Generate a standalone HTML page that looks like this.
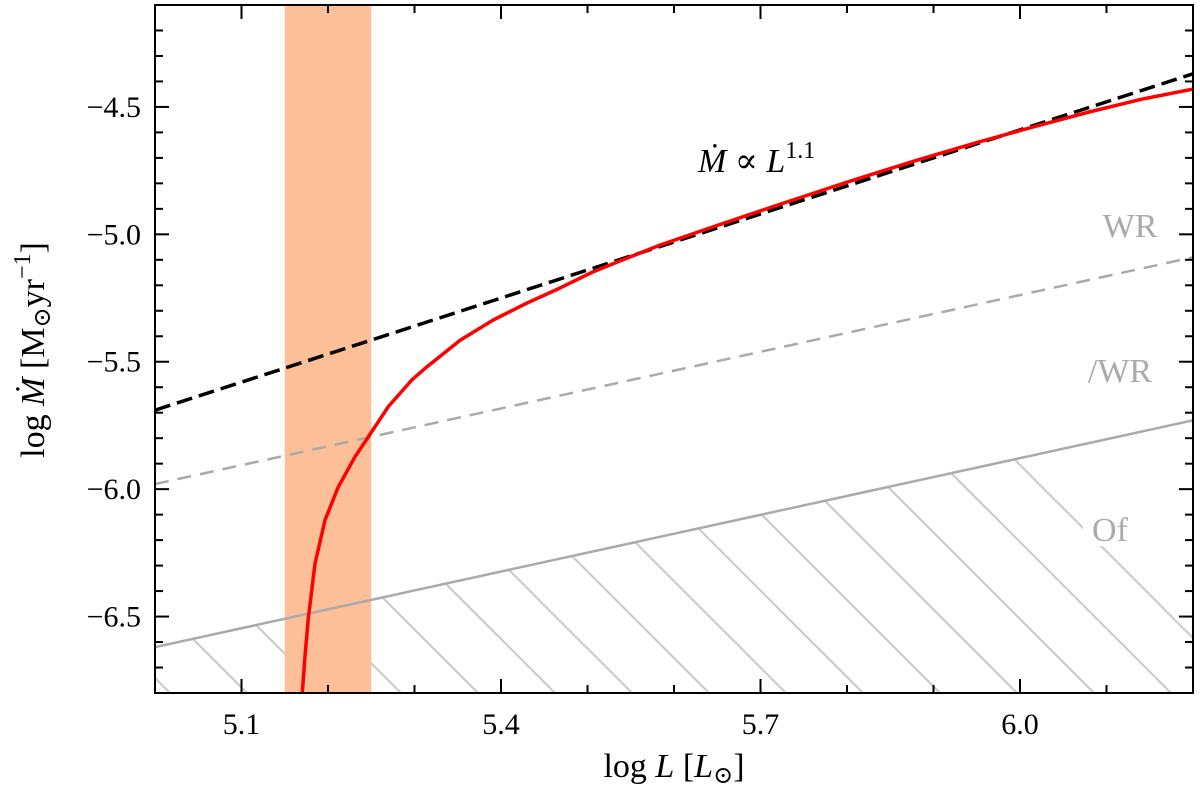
<!DOCTYPE html>
<html><head><meta charset="utf-8"><style>
body{margin:0;background:#fff}
svg{font-family:"Liberation Serif","DejaVu Serif",serif}
</style></head><body>
<svg id="c" width="1200" height="790" viewBox="0 0 1200 790" xmlns="http://www.w3.org/2000/svg"></svg>
<script>
const xDomain=[5.0,6.2];
const yDomain=[-6.8,-4.1];
const xTickLabels=[5.1,5.4,5.7,6.0];
const yTickLabels=[-6.5,-6.0,-5.5,-5.0,-4.5];
const bandRange=[5.15,5.25];
const powerLawIntercept=-5.69, powerLawSlope=1.1;
const wrDashedLine=[[5.0,-5.98],[6.2,-5.09]];
const ofSolidLine=[[5.0,-6.62],[6.2,-5.73]];
const redX=[5.1703,5.1735,5.1772,5.185,5.1965,5.2119,5.2312,5.2466,5.2697,5.2968,5.314,5.353,5.391,5.430,5.468,5.506,5.546,5.584,5.65,5.72,5.80,5.88,5.95,6.02,6.08,6.14,6.20];
const redY=[-6.80,-6.65,-6.507,-6.292,-6.122,-5.991,-5.873,-5.795,-5.676,-5.572,-5.521,-5.415,-5.336,-5.27,-5.211,-5.148,-5.093,-5.042,-4.965,-4.885,-4.795,-4.71,-4.64,-4.574,-4.52,-4.47,-4.43];

const L=155,R=1193,T=5,B=693;
const sx=v=>L+(v-xDomain[0])/(xDomain[1]-xDomain[0])*(R-L);
const sy=v=>B-(v-yDomain[0])/(yDomain[1]-yDomain[0])*(B-T);
const svg=document.getElementById('c');
const NS='http://www.w3.org/2000/svg';
function mk(tag,attrs,parent){const e=document.createElementNS(NS,tag);for(const k in attrs)e.setAttribute(k,attrs[k]);(parent||svg).appendChild(e);return e;}

const defs=mk('defs',{});
const cp=mk('clipPath',{id:'plot'},defs);mk('rect',{x:L,y:T,width:R-L,height:B-T},cp);
const hc=mk('clipPath',{id:'hatchclip'},defs);
mk('polygon',{points:`${sx(ofSolidLine[0][0])},${sy(ofSolidLine[0][1])} ${sx(ofSolidLine[1][0])},${sy(ofSolidLine[1][1])} ${R},${B} ${L},${B}`},hc);

const g=mk('g',{'clip-path':'url(#plot)'});



const hg=mk('g',{'clip-path':'url(#hatchclip)'},g);


for(let bx=L+15-77*10;bx<R+77;bx+=77){
  mk('line',{x1:bx-700,y1:B-700,x2:bx,y2:B,stroke:'#c8c8c8','stroke-width':2},hg);
}
const band=mk('rect',{x:sx(bandRange[0]),y:T,width:sx(bandRange[1])-sx(bandRange[0]),height:B-T,fill:'#fdbf98'},g);



const gd=mk('line',{x1:sx(wrDashedLine[0][0]),y1:sy(wrDashedLine[0][1]),x2:sx(wrDashedLine[1][0]),y2:sy(wrDashedLine[1][1]),stroke:'#aaaaaa','stroke-width':2.5,'stroke-dasharray':'14,9'},g);


const gs=mk('line',{x1:sx(ofSolidLine[0][0]),y1:sy(ofSolidLine[0][1]),x2:sx(ofSolidLine[1][0]),y2:sy(ofSolidLine[1][1]),stroke:'#aaaaaa','stroke-width':2.5},g);



const bl=mk('line',{x1:sx(xDomain[0]),y1:sy(powerLawIntercept),x2:sx(xDomain[1]),y2:sy(powerLawIntercept+powerLawSlope*(xDomain[1]-xDomain[0])),stroke:'#000','stroke-width':3.5,'stroke-dasharray':'16,7'},g);



let d='';redX.forEach((x,i)=>{d+=(i?'L':'M')+sx(x).toFixed(1)+','+sy(redY[i]).toFixed(1);});
const rp=mk('path',{d:d,fill:'none',stroke:'#ff0000','stroke-width':3.5,'stroke-linejoin':'round'},g);



function txt(s,x,y,attrs,name){const t=mk('text',Object.assign({x:x,y:y},attrs));t.textContent=s;return t;}
txt('WR',1130,237,{'font-size':34,fill:'#aaaaaa','text-anchor':'middle'},'wr-label');
txt('/WR',1120,382,{'font-size':34,fill:'#aaaaaa','text-anchor':'middle'},'of-wr-label');
mk('rect',{x:1083,y:508,width:54,height:38,fill:'#fff'});
txt('Of',1110,541,{'font-size':34,fill:'#aaaaaa','text-anchor':'middle'},'of-label');
const ann=mk('text',{x:698,y:172,'font-size':34,fill:'#000'});


ann.innerHTML='<tspan font-style="italic">M\u0307</tspan> ∝ <tspan font-style="italic">L</tspan><tspan font-size="24" dy="-14">1.1</tspan>';

const fr=mk('rect',{x:L,y:T,width:R-L,height:B-T,fill:'none',stroke:'#000','stroke-width':2});



for(let i=1;i<12;i++){const v=xDomain[0]+i*0.1;const x=sx(v);const major=(i%3===1);const len=major?14:8;
  mk('line',{x1:x,y1:B,x2:x,y2:B-len,stroke:'#000','stroke-width':2});
  mk('line',{x1:x,y1:T,x2:x,y2:T+len,stroke:'#000','stroke-width':2});}
xTickLabels.forEach(v=>txt(v.toFixed(1),sx(v),734,{'font-size':30,'text-anchor':'middle'},'x-tick-label'));
for(let i=1;i<27;i++){const v=yDomain[0]+i*0.1;const y=sy(v);const r=Math.round(v*10);const major=(r%5===0);const len=major?14:8;
  mk('line',{x1:L,y1:y,x2:L+len,y2:y,stroke:'#000','stroke-width':2});
  mk('line',{x1:R,y1:y,x2:R-len,y2:y,stroke:'#000','stroke-width':2});}
yTickLabels.forEach(v=>txt('−'+Math.abs(v).toFixed(1),141,sy(v)+10,{'font-size':30,'text-anchor':'end'},'y-tick-label'));

const xl=mk('text',{x:674,y:777,'font-size':34,'text-anchor':'middle'});


xl.innerHTML='log <tspan font-style="italic">L</tspan> [<tspan font-style="italic">L</tspan><tspan font-size="24" dy="6">⊙</tspan><tspan dy="-6">]</tspan>';
const yl=mk('text',{x:0,y:0,'font-size':34,'text-anchor':'middle',transform:'translate(44,350) rotate(-90)'});


yl.innerHTML='log <tspan font-style="italic">M\u0307</tspan> [M<tspan font-size="24" dy="6">⊙</tspan><tspan dy="-6">yr</tspan><tspan font-size="24" dy="-14">−1</tspan><tspan dy="14">]</tspan>';
</script>
</body></html>
